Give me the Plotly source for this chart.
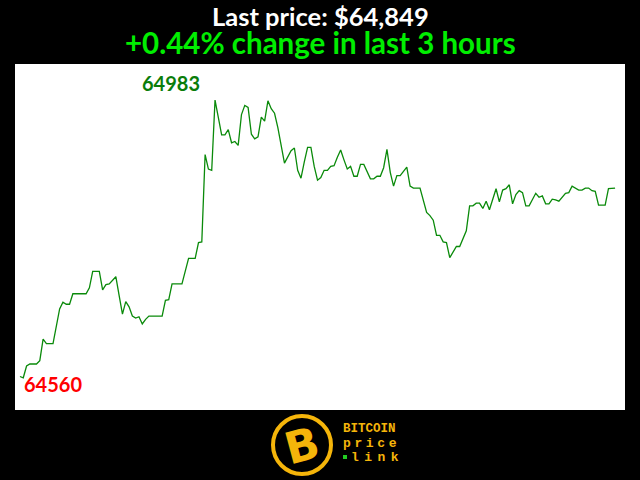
import plotly.graph_objects as go

# minutes since start of the 3-hour window, and BTC price (USD)
minutes = [0, 1, 2, 3, 5, 6, 7, 8, 10, 12, 13, 14, 15, 16, 20, 21, 22, 24, 25, 26, 27,
           29, 30, 31, 32, 33, 34, 35, 36, 37, 38, 39, 43, 44, 45, 46, 49, 51, 53, 54, 55,
           56, 57, 58, 59, 60, 61, 62, 63, 64, 65, 66, 67, 68, 69, 70, 71, 72, 73, 74, 75,
           76, 77, 78, 79, 80, 82, 83, 84, 85, 86, 87, 88, 89, 90, 91, 92, 93, 94, 95, 96,
           97, 98, 99, 100, 101, 102, 103, 104, 105, 106, 107, 108, 109, 110, 111, 112, 113,
           114, 115, 117, 118, 119, 121, 122, 123, 124, 125, 126, 127, 128, 129, 130, 131,
           132, 133, 135, 136, 137, 138, 139, 140, 141, 142, 144, 145, 146, 147, 148, 149,
           150, 151, 152, 153, 154, 156, 157, 158, 159, 160, 161, 162, 163, 165, 166, 167,
           168, 169, 170, 171, 172, 173, 174, 175, 177, 178, 180]
prices = [64562, 64560, 64578, 64581, 64581, 64586, 64619, 64612, 64612, 64665, 64675, 64672,
          64672, 64688, 64688, 64697, 64722, 64722, 64694, 64702, 64703,
          64714, 64685, 64657, 64676, 64668, 64654, 64651, 64653, 64642, 64649, 64654, 64654,
          64678, 64679, 64703, 64703, 64742, 64742, 64766, 64767,
          64900, 64878, 64876, 64983, 64958, 64930, 64930, 64938, 64918, 64920, 64914, 64961,
          64975, 64972, 64931, 64924, 64927, 64957, 64951, 64982,
          64970, 64963, 64941, 64913, 64887, 64906, 64910, 64876, 64864, 64889, 64911, 64911,
          64882, 64861, 64865, 64876, 64876, 64882, 64883, 64896,
          64907, 64892, 64878, 64882, 64867, 64867, 64885, 64885, 64874, 64863, 64863, 64867,
          64867, 64880, 64908, 64873, 64852,
          64868, 64868, 64881, 64852, 64849, 64849, 64831, 64812, 64807, 64800, 64777, 64777,
          64767, 64766, 64743, 64752,
          64760, 64760, 64784, 64822, 64822, 64826, 64826, 64818, 64829, 64816, 64848, 64828,
          64846, 64848, 64854, 64825,
          64839, 64845, 64842, 64822, 64822, 64841, 64835, 64837, 64825, 64825, 64832, 64831,
          64829, 64841, 64842, 64852,
          64849, 64846, 64846, 64849, 64849, 64845, 64844, 64823, 64823, 64848, 64849]

title_text = "Last price: $64,849"
subtitle_text = "+0.44% change in last 3 hours"
logo_lines = ["BITCOIN", "price", "link"]

hi = max(prices)
lo = min(prices)
i_hi = prices.index(hi)
i_lo = prices.index(lo)
span = hi - lo

fig = go.Figure()
fig.add_trace(go.Scatter(x=minutes, y=prices, mode="lines",
                         line=dict(color="#0a8a0a", width=1.3),
                         hoverinfo="skip", showlegend=False))

gold = "#f5b50a"
head_font = "Lato"


def spaced(word, gap_px):
    sp = f"<span style='font-size:{gap_px}px'> </span>"
    return sp.join(word)


ann = [
    dict(x=minutes[i_hi], y=hi, text=f"<b>{hi}</b>", showarrow=False,
         xanchor="center", yanchor="middle", xshift=-44, yshift=17,
         font=dict(family="Lato", size=20, color="#0a7d0a")),
    dict(x=minutes[i_lo], y=lo, text=f"<b>{lo}</b>", showarrow=False,
         xanchor="center", yanchor="middle", xshift=30, yshift=-6,
         font=dict(family="Lato", size=20, color="#ff0000")),
    dict(xref="paper", yref="paper", x=0.5, y=1, yshift=48, text=f"<b>{title_text}</b>",
         showarrow=False, xanchor="center", yanchor="middle",
         font=dict(family=head_font, size=25.5, color="white")),
    dict(xref="paper", yref="paper", x=0.5, y=1, yshift=22, text=f"<b>{subtitle_text}</b>",
         showarrow=False, xanchor="center", yanchor="middle",
         font=dict(family=head_font, size=29.5, color="#00ee00")),
    dict(xref="paper", yref="paper", x=(302 - 15) / 610, y=0, yshift=-35, text="<b>B</b>",
         showarrow=False, xanchor="center", yanchor="middle", textangle=-15,
         font=dict(family="DejaVu Sans", size=44, color=gold)),
    dict(xref="paper", yref="paper", x=(341 - 15) / 610, y=0, yshift=-19,
         text=f"<b>{logo_lines[0]}</b>", showarrow=False, xanchor="left", yanchor="middle",
         font=dict(family="Liberation Mono", size=12.5, color=gold)),
    dict(xref="paper", yref="paper", x=(341 - 15) / 610, y=0, yshift=-33,
         text=f"<b>{spaced(logo_lines[1], 6)}</b>", showarrow=False, xanchor="left",
         yanchor="middle", font=dict(family="Liberation Mono", size=13, color=gold)),
    dict(xref="paper", yref="paper", x=(349 - 15) / 610, y=0, yshift=-47,
         text=f"<b>{spaced(logo_lines[2], 9)}</b>", showarrow=False, xanchor="left",
         yanchor="middle", font=dict(family="Liberation Mono", size=13, color=gold)),
]

shapes = [
    dict(type="circle", xref="paper", yref="paper", xsizemode="pixel", ysizemode="pixel",
         xanchor=(302 - 15) / 610, yanchor=0, x0=-29, x1=29, y0=-35 - 29, y1=-35 + 29,
         line=dict(color=gold, width=4), fillcolor="black"),
    dict(type="rect", xref="paper", yref="paper", xsizemode="pixel", ysizemode="pixel",
         xanchor=(345 - 15) / 610, yanchor=0, x0=-2, x1=2, y0=-47 - 2, y1=-47 + 2,
         line=dict(width=0), fillcolor="#22cc22"),
]

fig.update_layout(
    width=640, height=480,
    paper_bgcolor="black", plot_bgcolor="white",
    margin=dict(l=15, r=15, t=64, b=70),
    xaxis=dict(visible=False, range=[-1.5, 183]),
    yaxis=dict(visible=False, range=[lo - 0.116 * span, hi + 0.13 * span]),
    annotations=ann, shapes=shapes,
)
fig.write_html("out.html", config={"displayModeBar": False})

with open("out.html", encoding="utf-8") as f:
    html = f.read()
html = html.replace("<head>", "<head><style>html,body{margin:0;padding:0;background:#000;}</style>", 1)
with open("out.html", "w", encoding="utf-8") as f:
    f.write(html)
